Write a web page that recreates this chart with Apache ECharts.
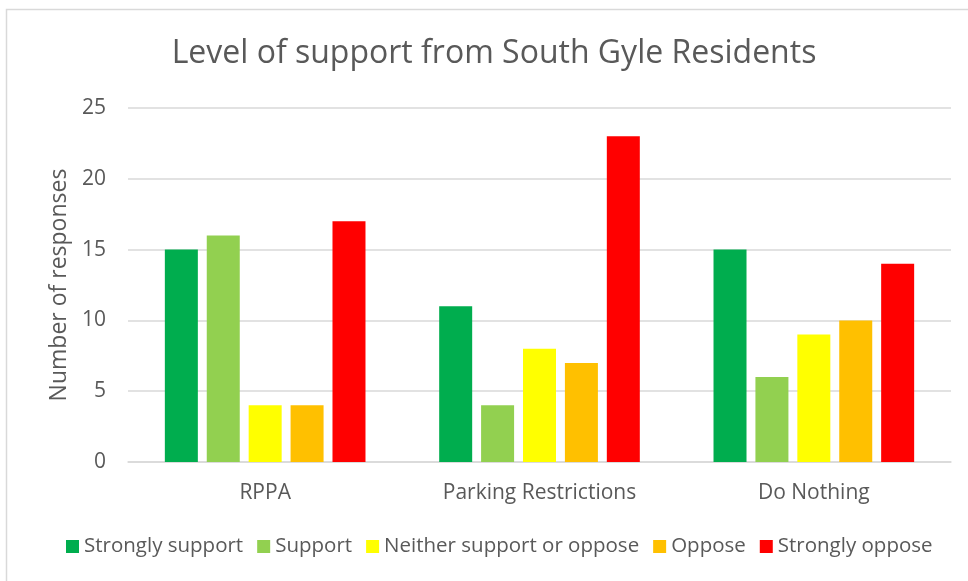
<!DOCTYPE html>
<html><head><meta charset="utf-8">
<script src="https://cdn.jsdelivr.net/npm/echarts@6/dist/echarts.min.js"></script>
<style>html,body{margin:0;padding:0;background:#fff}#c{width:968px;height:581px}</style>
</head><body><div id="c"></div>
<script>
const categories = ['RPPA', 'Parking Restrictions', 'Do Nothing'];
const seriesNames = ['Strongly support', 'Support', 'Neither support or oppose', 'Oppose', 'Strongly oppose'];
const stronglySupport = [15, 11, 15];
const support = [16, 4, 6];
const neither = [4, 8, 9];
const oppose = [4, 7, 10];
const stronglyOppose = [17, 23, 14];
const colors = ['#00AD4E', '#92D050', '#FFFF00', '#FFC000', '#FF0000'];
const values = [stronglySupport, support, neither, oppose, stronglyOppose];

const font = '"Open Sans", "Noto Sans", sans-serif';
const chart = echarts.init(document.getElementById('c'));
chart.setOption({
  animation: false,
  textStyle: { fontFamily: font },
  graphic: [
    { type: 'rect', shape: { x: 6.5, y: 9.5, width: 975, height: 600 }, style: { fill: 'none', stroke: '#d9d9d9', lineWidth: 1.5 }, z: -1 },
    { type: 'text', x: 494, y: 38, style: { text: 'Level of support from South Gyle Residents', fill: '#595959', font: '32px ' + font, textAlign: 'center' } }
  ],
  legend: {
    bottom: 19, left: 61, itemWidth: 13, itemHeight: 13, itemGap: 14,
    icon: 'rect',
    textStyle: { color: '#595959', fontSize: 20.5, fontFamily: font },
    data: seriesNames
  },
  grid: { left: 128, right: 17, top: 108, bottom: 119, containLabel: false },
  xAxis: {
    type: 'category', data: categories,
    axisLine: { lineStyle: { color: '#d9d9d9', width: 1.5 } },
    axisTick: { show: false },
    axisLabel: { color: '#595959', fontSize: 21, margin: 21, fontFamily: font }
  },
  yAxis: {
    type: 'value', min: 0, max: 25, interval: 5,
    name: 'Number of responses', nameLocation: 'middle', nameGap: 52,
    nameTextStyle: { color: '#595959', fontSize: 23, fontFamily: font },
    axisLine: { show: false }, axisTick: { show: false },
    axisLabel: { color: '#595959', fontSize: 21, margin: 22, fontFamily: font },
    splitLine: { lineStyle: { color: '#d9d9d9', width: 1.5 } }
  },
  series: seriesNames.map((n, i) => ({
    name: n, type: 'bar', data: values[i], barWidth: 33, barGap: '27%',
    itemStyle: { color: colors[i] }
  }))
});
</script></body></html>
